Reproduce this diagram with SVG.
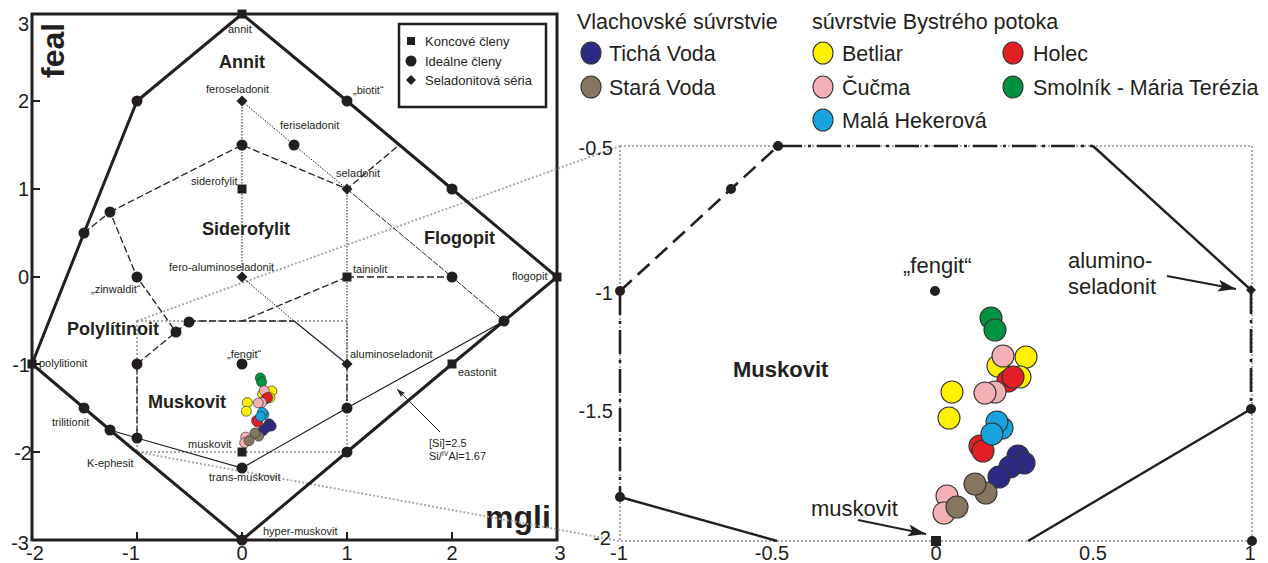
<svg xmlns="http://www.w3.org/2000/svg" xmlns:xlink="http://www.w3.org/1999/xlink" width="1268" height="563" viewBox="0 0 1268 563">
<style>
text{font-family:"Liberation Sans",Arial,sans-serif;fill:#231f20}
.lb{font-size:11px}
.bd{font-weight:bold;font-size:18px}
.ax{font-size:20px}
.big{font-weight:bold;font-size:32px}
.lg{font-size:21.5px}
.rt{font-size:22px}
.lgs{font-size:13px}
.thick{fill:none;stroke:#231f20;stroke-width:3;stroke-linejoin:miter}
.thin{fill:none;stroke:#231f20;stroke-width:1.2}
.dash{fill:none;stroke:#231f20;stroke-width:1.3;stroke-dasharray:7 3}
.dot{fill:none;stroke:#231f20;stroke-width:1;stroke-dasharray:1.5 1.5}
.dd{fill:none;stroke:#231f20;stroke-width:1;stroke-dasharray:6 1.5}
.gray{fill:none;stroke:#a7a9ac;stroke-width:2;stroke-dasharray:2 2}
.rl{fill:none;stroke:#231f20;stroke-width:2.4}
.rld{fill:none;stroke:#231f20;stroke-width:2.6;stroke-dasharray:16 8}
.rdd{fill:none;stroke:#231f20;stroke-width:2.6;stroke-dasharray:24 6 3 6}
.pt{fill:#231f20}
.ds{stroke:#333;stroke-width:1.1}
.dl{stroke:#333;stroke-width:0.7}
.nv{fill:#2c2a84}.br{fill:#867660}.ye{fill:#fff100}.pk{fill:#f3b1b6}.rd{fill:#e31e25}.gr{fill:#00933f}.bl{fill:#18a3df}
</style>
<defs>
<circle id="c" r="5.5"/>
<circle id="cr" r="5"/>
<rect id="s" x="-4.5" y="-4.5" width="9" height="9"/>
<path id="dm" d="M0,-5.5 L5.5,0 L0,5.5 L-5.5,0Z"/>
<path id="dms" d="M0,-5 L5,0 L0,5 L-5,0Z"/>
<marker id="ah" viewBox="0 0 18 12" refX="18" refY="6" markerWidth="18" markerHeight="12" orient="auto" markerUnits="userSpaceOnUse"><path d="M0,0 L18,6 L0,12 L4,6Z" fill="#231f20"/></marker>
<marker id="ah2" viewBox="0 0 9 6" refX="9" refY="3" markerWidth="9" markerHeight="6" orient="auto" markerUnits="userSpaceOnUse"><path d="M0,0 L9,3 L0,6 L2,3Z" fill="#231f20"/></marker>
</defs>
<rect width="1268" height="563" fill="#fff"/>

<!-- zoom box (gray, drawn below) -->
<g id="zoom-box">
<rect class="gray" x="137" y="321" width="210" height="131"/>
<rect class="gray" x="620" y="146" width="632" height="395"/>
</g>

<!-- left plot frame and axes -->
<g id="left-frame">
<rect x="32" y="14" width="525" height="526" fill="none" stroke="#231f20" stroke-width="3"/>
<path d="M32,101 H40 M32,189 H40 M32,277 H40 M32,364 H40 M32,452 H40 M137,540 V532 M242,540 V532 M347,540 V532 M452,540 V532" stroke="#231f20" stroke-width="2"/>
<g class="ax" text-anchor="end">
<text x="29" y="31">3</text><text x="29" y="108">2</text><text x="29" y="196">1</text><text x="29" y="284">0</text>
<text x="30" y="372">-1</text><text x="32" y="460">-2</text><text x="29" y="550">-3</text>
</g>
<g class="ax" text-anchor="middle">
<text x="35" y="560">-2</text><text x="131" y="560">-1</text><text x="242" y="560">0</text><text x="347" y="560">1</text><text x="452" y="560">2</text><text x="560" y="560">3</text>
</g>
<text class="big" transform="translate(64,78) rotate(-90)">feal</text>
<text class="big" x="485" y="528">mgli</text>
</g>

<!-- connectors -->
<g id="connectors">
<path class="gray" d="M137,321 L620,146 M137,452 L620,541"/>
<path class="thick" d="M242,14 L137,101 L84,233 L32,364 L84,408 L110,430 L242,540 L347,452 L452,364 L504,321 L557,277 L452,189 L347,101 Z"/>
<path class="thin" d="M110,430 L137,438 L242,468 L347,408 L504,321"/>
<path class="thin" d="M294,321 L347,364"/>
<path class="dash" d="M110,212 L242,145 L347,189 L399,145"/>
<path class="dash" d="M84,233 L110,212 L137,277 L176,332"/>
<path class="dash" d="M189,321 L176,332 L137,364 L137,438"/>
<path class="dash" d="M189,321 L294,321"/>
<path class="dash" d="M347,277 L452,277"/>
<path class="dash" d="M347,277 L242,321"/>
<path class="dash" d="M347,364 L347,408"/>
<path class="dot" d="M242,101 L294,145 L347,189"/>
<path class="dot" d="M242,101 V277"/>
<path class="dot" d="M347,189 V364"/>
<path class="dot" d="M242,277 L294,321"/>
<path class="dd" d="M347,189 L452,277 L504,321"/>
<path d="M440,432 L397,389" stroke="#231f20" stroke-width="1" marker-end="url(#ah2)"/>
<!-- right plot lines -->
<path class="rld" d="M620,291 L778,146"/>
<path class="rdd" d="M778,146 H1093"/>
<path class="rl" d="M1093,146 L1251,290"/>
<path class="rdd" d="M1251,290 V409"/>
<path class="rl" d="M1251,409 L1028,541"/>
<path class="rdd" d="M620,291 V497"/>
<path class="rl" d="M620,497 L777,541"/>
<path d="M858,520 L926,534" stroke="#231f20" stroke-width="2.2" marker-end="url(#ah)"/>
<path d="M1167,276 L1236,289" stroke="#231f20" stroke-width="2.2" marker-end="url(#ah)"/>
</g>

<!-- left plot nodes -->
<g id="n-annit"><use xlink:href="#s" x="242" y="14" class="pt"/><text class="lb" x="228" y="33">annit</text></g>
<g id="n-f1"><use xlink:href="#c" x="137" y="101" class="pt"/></g>
<g id="n-biotit"><use xlink:href="#c" x="347" y="101" class="pt"/><text class="lb" x="353" y="94">„biotit“</text></g>
<g id="n-feroseladonit"><use xlink:href="#dm" x="242" y="101" class="pt"/><text class="lb" x="206" y="93">feroseladonit</text></g>
<g id="n-feriseladonit"><use xlink:href="#c" x="294" y="145" class="pt"/><text class="lb" x="280" y="129">feriseladonit</text></g>
<g id="n-c015"><use xlink:href="#c" x="242" y="145" class="pt"/></g>
<g id="n-siderofylit"><use xlink:href="#s" x="242" y="189" class="pt"/><text class="lb" x="191" y="185">siderofylit</text></g>
<g id="n-seladonit"><use xlink:href="#dm" x="347" y="189" class="pt"/><text class="lb" x="336" y="177">seladonit</text></g>
<g id="n-c21"><use xlink:href="#c" x="452" y="189" class="pt"/></g>
<g id="n-c1"><use xlink:href="#c" x="110" y="212" class="pt"/></g>
<g id="n-c2"><use xlink:href="#c" x="84" y="233" class="pt"/></g>
<g id="n-zinwaldit"><use xlink:href="#c" x="137" y="277" class="pt"/><text class="lb" x="91" y="293">„zinwaldit“</text></g>
<g id="n-feroal"><use xlink:href="#dm" x="242" y="277" class="pt"/><text class="lb" x="169" y="271">fero-aluminoseladonit</text></g>
<g id="n-tainiolit"><use xlink:href="#s" x="347" y="277" class="pt"/><text class="lb" x="353" y="273">tainiolit</text></g>
<g id="n-c20"><use xlink:href="#c" x="452" y="277" class="pt"/></g>
<g id="n-flogopit"><use xlink:href="#s" x="557" y="277" class="pt"/><text class="lb" x="512" y="280">flogopit</text></g>
<g id="n-c3"><use xlink:href="#c" x="189" y="322" class="pt"/></g>
<g id="n-c4"><use xlink:href="#c" x="176" y="332" class="pt"/></g>
<g id="n-c5"><use xlink:href="#c" x="137" y="364" class="pt"/></g>
<g id="n-polylitionit"><use xlink:href="#s" x="32" y="364" class="pt"/><text class="lb" x="39" y="367">polylitionit</text></g>
<g id="n-fengit"><use xlink:href="#c" x="242" y="364" class="pt"/><text class="lb" x="227" y="358">„fengit“</text></g>
<g id="n-aluminoseladonit"><use xlink:href="#dm" x="347" y="364" class="pt"/><text class="lb" x="350" y="358">aluminoseladonit</text></g>
<g id="n-eastonit"><use xlink:href="#s" x="452" y="364" class="pt"/><text class="lb" x="458" y="376">eastonit</text></g>
<g id="n-c25"><use xlink:href="#c" x="504" y="321" class="pt"/></g>
<g id="n-trilitionit"><use xlink:href="#c" x="84" y="408" class="pt"/><text class="lb" x="52" y="426">trilitionit</text></g>
<g id="n-kephesit"><use xlink:href="#c" x="110" y="430" class="pt"/><text class="lb" x="87" y="467">K-ephesit</text></g>
<g id="n-c6"><use xlink:href="#c" x="137" y="438" class="pt"/></g>
<g id="n-muskovit"><use xlink:href="#s" x="242" y="452" class="pt"/><text class="lb" x="188" y="448">muskovit</text></g>
<g id="n-transmuskovit"><use xlink:href="#c" x="242" y="468" class="pt"/><text class="lb" x="209" y="481">trans-muskovit</text></g>
<g id="n-hypermuskovit"><use xlink:href="#c" x="242" y="540" class="pt"/><text class="lb" x="263" y="535">hyper-muskovit</text></g>
<g id="n-c7"><use xlink:href="#c" x="347" y="408" class="pt"/></g>
<g id="n-c8"><use xlink:href="#c" x="347" y="452" class="pt"/></g>

<g id="field-labels-left">
<text class="bd" x="219" y="68">Annit</text>
<text class="bd" x="202" y="235">Siderofylit</text>
<text class="bd" x="424" y="244">Flogopit</text>
<text class="bd" x="67" y="335">Polylítinoit</text>
<text class="bd" x="148" y="408">Muskovit</text>
<text class="lb" x="429" y="447">[Si]=2.5</text>
<text class="lb" x="429" y="460">Si/<tspan font-size="7" dy="-4">IV</tspan><tspan dy="4">Al=1.67</tspan></text>
</g>

<g id="legend-left">
<rect x="399" y="24" width="147" height="83" fill="#fff" stroke="#231f20" stroke-width="2.5"/>
<rect x="407" y="37" width="8" height="8" class="pt"/><text class="lgs" x="425" y="46">Koncové členy</text>
<circle cx="411" cy="61" r="5.5" class="pt"/><text class="lgs" x="425" y="66">Ideálne členy</text>
<path d="M411,75 L416,80 L411,85 L406,80Z" class="pt"/><text class="lgs" x="425" y="85">Seladonitová séria</text>
</g>

<!-- left data -->
<g id="data-left" class="dl">
<use xlink:href="#cr" x="260.3" y="378" class="gr"/>
<use xlink:href="#cr" x="261.6" y="382" class="gr"/>
<use xlink:href="#cr" x="271.9" y="391" class="ye"/>
<use xlink:href="#cr" x="262.6" y="394" class="ye"/>
<use xlink:href="#cr" x="264.3" y="390.6" class="pk"/>
<use xlink:href="#cr" x="269.9" y="397.6" class="ye"/>
<use xlink:href="#cr" x="265.9" y="398.9" class="rd"/>
<use xlink:href="#cr" x="267.6" y="397.6" class="rd"/>
<use xlink:href="#cr" x="261.6" y="402.6" class="pk"/>
<use xlink:href="#cr" x="258.3" y="402.9" class="pk"/>
<use xlink:href="#cr" x="247.3" y="402.6" class="ye"/>
<use xlink:href="#cr" x="246.3" y="411.2" class="ye"/>
<use xlink:href="#cr" x="256.6" y="420.5" class="rd"/>
<use xlink:href="#cr" x="257.6" y="422.1" class="rd"/>
<use xlink:href="#cr" x="263.9" y="414.5" class="bl"/>
<use xlink:href="#cr" x="262.3" y="412.5" class="bl"/>
<use xlink:href="#cr" x="260.6" y="416.5" class="bl"/>
<use xlink:href="#cr" x="269.2" y="423.8" class="nv"/>
<use xlink:href="#cr" x="271.2" y="426.1" class="nv"/>
<use xlink:href="#cr" x="266.6" y="427.4" class="nv"/>
<use xlink:href="#cr" x="262.9" y="430.8" class="nv"/>
<use xlink:href="#cr" x="258.6" y="436.1" class="br"/>
<use xlink:href="#cr" x="255" y="433.1" class="br"/>
<use xlink:href="#cr" x="245.7" y="437.1" class="pk"/>
<use xlink:href="#cr" x="244.7" y="442.7" class="pk"/>
<use xlink:href="#cr" x="249" y="440.7" class="br"/>
</g>

<!-- right plot -->
<g id="right-axes" class="ax">
<g text-anchor="end">
<text x="613" y="155">-0.5</text><text x="613" y="300">-1</text><text x="613" y="418">-1.5</text><text x="611" y="545">-2</text>
</g>
<g text-anchor="middle">
<text x="619" y="560">-1</text><text x="772" y="560">-0.5</text><text x="936" y="560">0</text><text x="1093" y="560">0.5</text><text x="1250" y="560">1</text>
</g>
</g>
<g id="rn-1"><circle cx="778" cy="146" r="5" class="pt"/></g>
<g id="rn-2"><circle cx="731" cy="189" r="5" class="pt"/></g>
<g id="rn-3"><circle cx="620" cy="291" r="5" class="pt"/></g>
<g id="rn-4"><circle cx="620" cy="497" r="5" class="pt"/></g>
<g id="rn-fengit"><circle cx="935" cy="291" r="5" class="pt"/><text class="rt" x="903" y="273">„fengit“</text></g>
<g id="rn-alumino"><use xlink:href="#dms" x="1251" y="290" class="pt"/><text class="rt" x="1068" y="268">alumino-</text><text class="rt" x="1068" y="294">seladonit</text></g>
<g id="rn-5"><circle cx="1251" cy="409" r="5" class="pt"/></g>
<g id="rn-6"><circle cx="1252" cy="541" r="5" class="pt"/></g>
<g id="rn-muskovit"><rect x="931" y="536" width="10" height="10" class="pt"/><text class="rt" x="811" y="516">muskovit</text></g>
<text class="rt" x="733" y="377" font-weight="bold">Muskovit</text>

<g id="data-right" class="ds">
<circle r="11" cx="991" cy="318" class="gr"/>
<circle r="11" cx="995" cy="330" class="gr"/>
<circle r="11" cx="1026" cy="357" class="ye"/>
<circle r="11" cx="998" cy="366" class="ye"/>
<circle r="11" cx="1003" cy="356" class="pk"/>
<circle r="11" cx="1020" cy="377" class="ye"/>
<circle r="11" cx="1008" cy="381" class="rd"/>
<circle r="11" cx="1013" cy="377" class="rd"/>
<circle r="11" cx="995" cy="392" class="pk"/>
<circle r="11" cx="985" cy="393" class="pk"/>
<circle r="11" cx="952" cy="392" class="ye"/>
<circle r="11" cx="949" cy="418" class="ye"/>
<circle r="11" cx="980" cy="446" class="rd"/>
<circle r="11" cx="983" cy="451" class="rd"/>
<circle r="11" cx="1002" cy="428" class="bl"/>
<circle r="11" cx="997" cy="422" class="bl"/>
<circle r="11" cx="992" cy="434" class="bl"/>
<circle r="11" cx="1018" cy="456" class="nv"/>
<circle r="11" cx="1024" cy="463" class="nv"/>
<circle r="11" cx="1010" cy="467" class="nv"/>
<circle r="11" cx="999" cy="477" class="nv"/>
<circle r="11" cx="986" cy="493" class="br"/>
<circle r="11" cx="975" cy="484" class="br"/>
<circle r="11" cx="947" cy="496" class="pk"/>
<circle r="11" cx="944" cy="513" class="pk"/>
<circle r="11" cx="957" cy="507" class="br"/>
</g>

<!-- top legend -->
<g id="legend-top" class="ds">
<text class="lg" x="577" y="29" stroke="none">Vlachovské súvrstvie</text>
<text class="lg" x="812" y="29" stroke="none">súvrstvie Bystrého potoka</text>
<ellipse cx="591" cy="53" rx="10" ry="11" class="nv"/><text class="lg" x="609" y="61" stroke="none">Tichá Voda</text>
<ellipse cx="591" cy="87" rx="10" ry="11" class="br"/><text class="lg" x="609" y="95" stroke="none">Stará Voda</text>
<ellipse cx="823" cy="53" rx="10" ry="11" class="ye"/><text class="lg" x="842" y="61" stroke="none">Betliar</text>
<ellipse cx="823" cy="87" rx="10" ry="11" class="pk"/><text class="lg" x="842" y="95" stroke="none">Čučma</text>
<ellipse cx="823" cy="120" rx="10" ry="11" class="bl"/><text class="lg" x="842" y="128" stroke="none">Malá Hekerová</text>
<ellipse cx="1013" cy="53" rx="10" ry="11" class="rd"/><text class="lg" x="1033" y="61" stroke="none">Holec</text>
<ellipse cx="1013" cy="87" rx="10" ry="11" class="gr"/><text class="lg" x="1033" y="95" stroke="none">Smolník - Mária Terézia</text>
</g>
</svg>
